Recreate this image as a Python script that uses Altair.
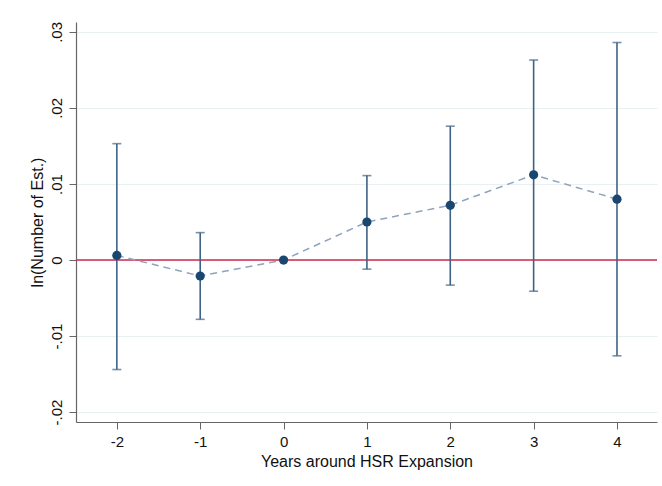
import altair as alt
import pandas as pd

# Event-study estimates around HSR expansion
years = [-2, -1, 0, 1, 2, 3, 4]
coef = [0.0006, -0.0021, 0.0, 0.0050, 0.0072, 0.0112, 0.0080]
ci_low = [-0.0144, -0.0078, 0.0, -0.0012, -0.0033, -0.0041, -0.0126]
ci_high = [0.0153, 0.0036, 0.0, 0.0111, 0.0176, 0.0263, 0.0286]
y_ticks = [-0.02, -0.01, 0.0, 0.01, 0.02, 0.03]
x_ticks = [-2, -1, 0, 1, 2, 3, 4]

df = pd.DataFrame({"year": years, "coef": coef, "lo": ci_low, "hi": ci_high})
ci_df = df[df["lo"] != df["hi"]]

FONT = "Liberation Sans"
NAVY = "#1a476f"
BAR = "#3f6286"

x_scale = alt.Scale(domain=[-2.49, 4.48], nice=False, zero=False)
y_scale = alt.Scale(domain=[-0.0213, 0.0313], nice=False, zero=False)

x_axis = alt.Axis(
    values=x_ticks, title="Years around HSR Expansion", grid=False,
    labelExpr="(datum.value < 0 ? '-' : '') + abs(datum.value)",
    labelFontSize=15, titleFontSize=16, labelFont=FONT, titleFont=FONT,
    labelColor="#111", titleColor="#111", titleFontWeight="normal",
    tickSize=7, tickColor="#666", domainColor="#666", domainWidth=1.2,
    labelPadding=5, titlePadding=4,
)
y_axis = alt.Axis(
    values=y_ticks, title="ln(Number of Est.)",
    labelExpr="datum.value == 0 ? '0' : (datum.value < 0 ? '-' : '') + '.0' + round(abs(datum.value) * 100)",
    labelAngle=270, labelAlign="center", labelBaseline="bottom",
    labelFontSize=15, titleFontSize=16, labelFont=FONT, titleFont=FONT,
    labelColor="#111", titleColor="#111", titleFontWeight="normal",
    tickSize=7, tickColor="#666", domainColor="#666", domainWidth=1.2,
    gridColor="#e9f0f2", gridWidth=1.2, labelPadding=5, titlePadding=4,
)

base = alt.Chart(df)

zero_line = alt.Chart(pd.DataFrame({"z": [0.0]})).mark_rule(
    color="#d0284d", strokeWidth=1.6
).encode(y=alt.Y("z:Q", scale=y_scale, axis=y_axis))

line = base.mark_line(color="#8ea3bd", strokeDash=[7, 5], strokeWidth=1.5).encode(
    x=alt.X("year:Q", scale=x_scale, axis=x_axis),
    y=alt.Y("coef:Q", scale=y_scale, axis=y_axis),
)

bars = alt.Chart(ci_df).mark_rule(color=BAR, strokeWidth=1.6).encode(
    x=alt.X("year:Q", scale=x_scale, axis=x_axis),
    y=alt.Y("lo:Q", scale=y_scale, axis=y_axis),
    y2="hi:Q",
)
cap_lo = alt.Chart(ci_df).mark_tick(color=BAR, orient="horizontal", size=9, thickness=1.6).encode(
    x=alt.X("year:Q", scale=x_scale, axis=x_axis),
    y=alt.Y("lo:Q", scale=y_scale, axis=y_axis),
)
cap_hi = alt.Chart(ci_df).mark_tick(color=BAR, orient="horizontal", size=9, thickness=1.6).encode(
    x=alt.X("year:Q", scale=x_scale, axis=x_axis),
    y=alt.Y("hi:Q", scale=y_scale, axis=y_axis),
)

points = base.mark_circle(color=NAVY, size=85, opacity=1).encode(
    x=alt.X("year:Q", scale=x_scale, axis=x_axis),
    y=alt.Y("coef:Q", scale=y_scale, axis=y_axis),
)

chart = (
    alt.layer(zero_line, line, bars, cap_lo, cap_hi, points)
    .properties(
        width=581, height=400,
        autosize=alt.AutoSizeParams(type="none"),
        padding={"left": 76, "top": 22, "right": 5, "bottom": 64},
        background="white",
    )
    .configure_view(stroke=None)
)

chart.save("out.html", embed_options={"renderer": "svg", "actions": False})
